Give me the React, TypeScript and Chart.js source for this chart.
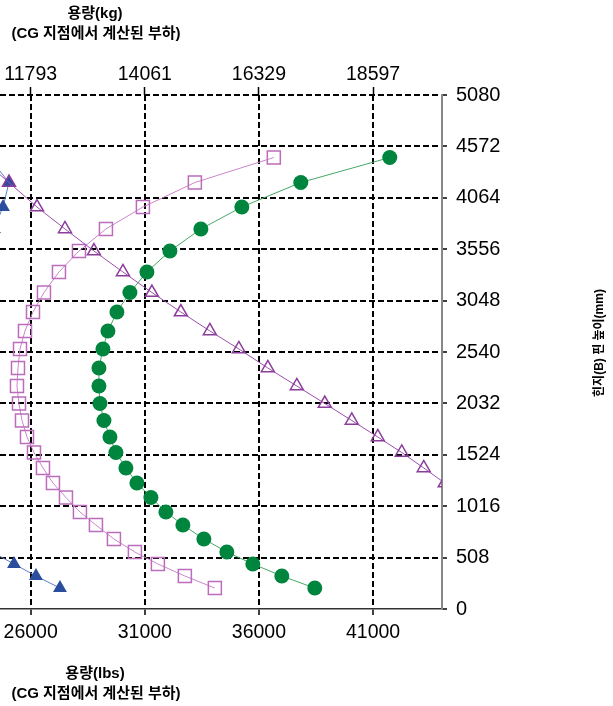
import React, { useEffect, useRef } from 'react';
import { Chart, registerables } from 'chart.js';

Chart.register(...registerables);

// ---- data ----
const heightsMm = [207, 326, 445, 563, 692, 830, 959, 1102, 1245, 1394, 1547, 1700, 1863, 2031, 2204, 2382, 2570, 2748, 2935, 3128, 3331, 3538, 3756, 3973, 4215, 4462];
const solidCircleLbs = [38447, 37002, 35732, 34594, 33587, 32668, 31923, 31267, 30654, 30172, 29734, 29472, 29209, 29034, 28990, 28990, 29165, 29384, 29778, 30347, 31092, 32099, 33456, 35251, 37834, 41731];
const openSquareLbs = [34069, 32755, 31573, 30566, 29647, 28859, 28158, 27545, 26976, 26539, 26144, 25838, 25619, 25488, 25400, 25444, 25532, 25750, 26101, 26582, 27239, 28115, 29297, 30917, 33193, 36652];
const openTriangleLbs = [null, null, null, null, null, null, null, null, 44140, 43219, 42256, 41206, 40067, 38885, 37659, 36389, 35120, 33850, 32580, 31311, 30041, 28771, 27502, 26276, 25050, 23780];
const solidTriangleLbs = [27283, 26232, 25269, 24306, null, null, null, null, null, null, null, null, null, null, null, null, null, null, null, null, null, null, 24393, 24787, 25050, 24174];

const lbsTicks = [26000, 31000, 36000, 41000];
const kgTickLabels = ['11793', '14061', '16329', '18597'];
const mmTicks = [0, 508, 1016, 1524, 2032, 2540, 3048, 3556, 4064, 4572, 5080];
const lbsMin = 24656;
const lbsMax = 44020;
const mmMin = 0;
const mmMax = 5080;

const topAxisTitle = ['용량(kg)', '(CG 지점에서 계산된 부하)'];
const bottomAxisTitle = ['용량(lbs)', '(CG 지점에서 계산된 부하)'];
const rightAxisTitle = '힌지(B) 핀 높이(mm)';

const FONT = '"Liberation Sans", Arial, "Noto Sans CJK KR", sans-serif';
const TITLE_FONT = '"Liberation Sans", Arial, "Noto Sans CJK KR", sans-serif';

function toPoints(xs: (number | null)[]) {
  return xs.map((x, i) => (x === null ? { x: null, y: null } : { x, y: heightsMm[i] }));
}

const titlePlugin = {
  id: 'axisTitles',
  afterDraw(chart: any) {
    const ctx = chart.ctx as CanvasRenderingContext2D;
    ctx.save();
    ctx.fillStyle = '#000';
    ctx.font = `bold 15px ${TITLE_FONT}`;
    ctx.textAlign = 'center';
    ctx.textBaseline = 'middle';
    ctx.fillText(topAxisTitle[0], 95, 14);
    ctx.fillText(topAxisTitle[1], 96, 34);
    ctx.fillText(bottomAxisTitle[0], 95, 674);
    ctx.fillText(bottomAxisTitle[1], 96, 694);
    ctx.translate(600, 343);
    ctx.rotate(-Math.PI / 2);
    ctx.font = `bold 12px ${TITLE_FONT}`;
    ctx.fillText(rightAxisTitle, 0, 0);
    ctx.restore();
  },
};

export default function App() {
  const ref = useRef<HTMLCanvasElement | null>(null);

  useEffect(() => {
    if (!ref.current) return;
    const setTicks = (vals: number[]) => (scale: any) => {
      scale.ticks = vals.map((v) => ({ value: v }));
    };
    const fitX = (h: number) => (s: any) => {
      s.height = h;
      s.paddingLeft = 0;
      s.paddingRight = 0;
    };
    const chart = new Chart(ref.current, {
      type: 'line',
      data: {
        datasets: [
          {
            label: 'open triangle',
            data: toPoints(openTriangleLbs) as any,
            borderColor: '#9c4fae',
            borderWidth: 1,
            pointStyle: 'triangle',
            pointRadius: 7.5,
            pointBackgroundColor: 'rgba(255,255,255,0)',
            pointBorderColor: '#8b3d9b',
            pointBorderWidth: 1.5,
            tension: 0,
            spanGaps: false,
          },
          {
            label: 'solid circle',
            data: toPoints(solidCircleLbs) as any,
            borderColor: '#47a866',
            borderWidth: 1,
            pointStyle: 'circle',
            pointRadius: 7.5,
            pointBackgroundColor: '#00853e',
            pointBorderColor: '#00853e',
            pointBorderWidth: 0,
            tension: 0,
          },
          {
            label: 'open square',
            data: toPoints(openSquareLbs) as any,
            borderColor: '#cc85cc',
            borderWidth: 1,
            pointStyle: 'rect',
            pointRadius: 9.2,
            pointBackgroundColor: 'rgba(255,255,255,0)',
            pointBorderColor: '#bb6cbb',
            pointBorderWidth: 1.5,
            tension: 0,
          },
          {
            label: 'solid triangle',
            data: toPoints(solidTriangleLbs) as any,
            borderColor: '#5a7ec8',
            borderWidth: 1,
            pointStyle: 'triangle',
            pointRadius: 8,
            pointBackgroundColor: '#2a4d9e',
            pointBorderColor: '#2a4d9e',
            pointBorderWidth: 0,
            tension: 0,
            spanGaps: false,
          },
        ],
      },
      options: {
        animation: false,
        responsive: false,
        maintainAspectRatio: false,
        layout: { padding: 0, autoPadding: false },
        plugins: { legend: { display: false }, tooltip: { enabled: false } },
        scales: {
          x: {
            type: 'linear',
            position: 'bottom',
            min: lbsMin,
            max: lbsMax,
            afterBuildTicks: setTicks(lbsTicks),
            afterFit: fitX(97),
            grid: { color: '#000', lineWidth: 2, drawTicks: true, tickLength: 6, tickColor: '#000', tickWidth: 1.5 },
            border: { display: true, color: '#333', width: 1.5, dash: [6, 3] },
            ticks: { color: '#000', font: { size: 19.5, family: FONT }, padding: 6, maxRotation: 0, autoSkip: false, callback: (v: any) => String(v) },
          },
          x2: {
            type: 'linear',
            position: 'top',
            min: lbsMin,
            max: lbsMax,
            afterBuildTicks: setTicks(lbsTicks),
            afterFit: fitX(95),
            grid: { drawOnChartArea: false, drawTicks: true, tickLength: 8, tickColor: '#000', tickWidth: 1.5 },
            border: { display: false },
            ticks: { color: '#000', font: { size: 19.5, family: FONT }, padding: 0.5, maxRotation: 0, autoSkip: false, callback: (_v: any, i: number) => kgTickLabels[i] },
          },
          y: {
            type: 'linear',
            position: 'right',
            min: mmMin,
            max: mmMax,
            afterBuildTicks: setTicks(mmTicks),
            afterFit: (s: any) => { s.width = 171; s.paddingTop = 0; s.paddingBottom = 0; },
            grid: {
              color: (c: any) => (c.tick && c.tick.value === 0 ? 'rgba(0,0,0,0)' : '#000'),
              lineWidth: 2,
              drawTicks: true,
              tickLength: 5,
              tickColor: '#000',
              tickWidth: 1.5,
            },
            border: { display: true, color: '#888', width: 2, dash: [6, 3] },
            ticks: { color: '#000', font: { size: 20, family: FONT }, padding: 9, autoSkip: false, callback: (v: any) => String(v) },
          },
        },
      },
      plugins: [titlePlugin],
    } as any);
    return () => chart.destroy();
  }, []);

  return (
    <div style={{ position: 'fixed', left: 0, top: 0, width: 613, height: 706, background: '#fff' }}>
      <canvas ref={ref} width={613} height={706} style={{ display: 'block', width: 613, height: 706 }} />
    </div>
  );
}
